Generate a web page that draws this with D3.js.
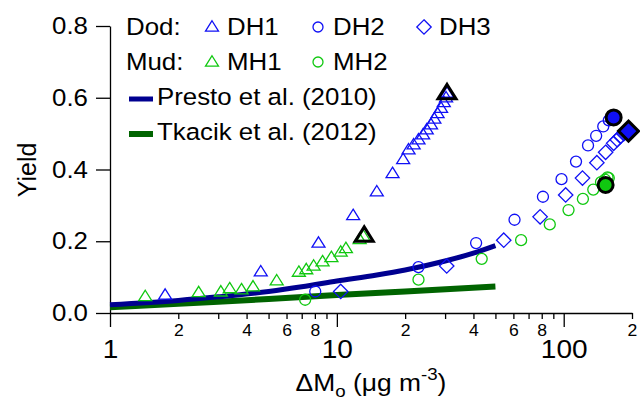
<!DOCTYPE html>
<html>
<head>
<meta charset="utf-8">
<script src="https://cdn.jsdelivr.net/npm/d3@7"></script>
<style>
  html, body { margin: 0; padding: 0; background: #fff; }
  svg { display: block; font-family: "Liberation Sans", Arial, Helvetica, sans-serif; }
</style>
</head>
<body>
<svg id="chart" width="640" height="401"></svg>
<script>
// ---------------- data ----------------
const dh1X = [1.75, 4.62, 8.3, 11.8, 15.0, 17.6, 19.6, 20.7, 21.8, 22.9, 24.0, 24.9, 26.0, 26.9, 27.8, 28.8, 29.6, 30.3, 30.6];
const dh1Y = [0.050, 0.115, 0.195, 0.272, 0.338, 0.389, 0.428, 0.455, 0.469, 0.483, 0.497, 0.511, 0.525, 0.541, 0.556, 0.571, 0.587, 0.600, 0.613];
const dh2X = [8.03, 22.9, 41.1, 60.7, 81.0, 97.8, 113.3, 128, 139, 149.4, 158, 163, 166];
const dh2Y = [0.060, 0.128, 0.195, 0.260, 0.324, 0.373, 0.422, 0.467, 0.494, 0.520, 0.537, 0.542, 0.545];
const dh3X = [10.4, 30.5, 54.4, 78.7, 102, 121, 140, 153, 166, 172, 178, 184, 189, 193];
const dh3Y = [0.060, 0.131, 0.203, 0.268, 0.329, 0.376, 0.419, 0.448, 0.473, 0.483, 0.492, 0.500, 0.505, 0.507];
const mh1X = [1.43, 2.46, 3.08, 3.37, 3.80, 4.27, 5.43, 6.80, 7.33, 7.90, 8.65, 9.46, 10.4, 10.96, 12.6, 13.1];
const mh1Y = [0.046, 0.057, 0.059, 0.068, 0.065, 0.073, 0.090, 0.114, 0.121, 0.131, 0.143, 0.155, 0.170, 0.180, 0.205, 0.214];
const mh2X = [7.25, 22.9, 43.5, 64.9, 86.8, 105, 121.5, 135, 146, 152, 156, 158, 153];
const mh2Y = [0.037, 0.093, 0.151, 0.203, 0.247, 0.287, 0.318, 0.344, 0.365, 0.372, 0.378, 0.376, 0.357];

// highlighted end points (x, y)
const endDH1 = [30.6, 0.613];
const endMH1 = [13.2, 0.216];
const endDH2 = [166, 0.545];
const endDH3 = [193, 0.507];
const endMH2 = [153, 0.357];

const prestoX = [1, 2, 3, 5, 7, 10, 15, 20, 30, 40, 50];
const prestoY = [0.023, 0.035, 0.045, 0.060, 0.073, 0.089, 0.106, 0.120, 0.145, 0.167, 0.188];
const tkacikX = [1, 2, 5, 10, 20, 50];
const tkacikY = [0.016, 0.026, 0.039, 0.050, 0.060, 0.074];

const yTicks = [0, 0.2, 0.4, 0.6, 0.8];
const xMajor = [1, 10, 100];
const xLabelled = [2, 4, 6, 8, 20, 40, 60, 80, 200];
const xTicks = [1,2,3,4,5,6,7,8,9,10,20,30,40,50,60,70,80,90,100,200];

// ---------------- style ----------------
const BLUE = "#1010f5", GREEN = "#10c810", NAVY = "#000090", DKGREEN = "#006400";
const SX = 1.1; // horizontal text stretch seen in the reference

const svg = d3.select("#chart");
const x = d3.scaleLog().domain([1, 200]).range([110, 632]);
const y = d3.scaleLinear().domain([0, 0.8]).range([313, 26]);

function stretch(sel) {
  sel.each(function() {
    const t = d3.select(this);
    const tx = +t.attr("x") || 0, ty = +t.attr("y") || 0;
    t.attr("transform", `translate(${tx},${ty}) scale(${SX},1) translate(${-tx},${-ty})`);
  });
}

// ---------------- axes ----------------
const yAxis = d3.axisLeft(y).tickValues(yTicks).tickSize(14).tickSizeOuter(0).tickPadding(8)
  .tickFormat(d3.format(".1f"));
const gy = svg.append("g").attr("transform", "translate(110,0)").call(yAxis);
gy.selectAll("text").attr("font-size", 23.5).attr("fill", "#000").attr("font-family", null);
gy.selectAll("line, path").attr("stroke", "#000").attr("stroke-width", 1.3);
stretch(gy.selectAll("text"));

const xAxis = d3.axisBottom(x).tickValues(xTicks).tickSize(6).tickSizeOuter(0)
  .tickFormat(d => {
    if (xMajor.includes(d)) return String(d);
    if (xLabelled.includes(d)) return String(d).charAt(0);
    return "";
  });
const gx = svg.append("g").attr("transform", "translate(0,313)").call(xAxis);
gx.selectAll("line, path").attr("stroke", "#000").attr("stroke-width", 1.3);
gx.selectAll(".tick").each(function(d) {
  const t = d3.select(this);
  if (xMajor.includes(d)) {
    t.select("line").attr("y2", 14);
    t.select("text").attr("y", 27).attr("font-size", 25.5);
  } else {
    t.select("text").attr("y", 12).attr("font-size", 16);
  }
  t.select("text").attr("fill", "#000").attr("font-family", null);
});
stretch(gx.selectAll("text"));

// axis titles
const title = svg.append("text").attr("x", 371).attr("y", 391).attr("text-anchor", "middle")
  .attr("font-size", 24).attr("fill", "#000");
title.append("tspan").text("ΔM");
title.append("tspan").attr("font-size", 17).attr("dy", 6).text("o");
title.append("tspan").attr("dy", -6).text(" (μg m");
title.append("tspan").attr("font-size", 17).attr("dy", -11).text("-3");
title.append("tspan").attr("dy", 11).text(")");
stretch(title);

svg.append("text").attr("transform", "translate(36,170) rotate(-90)").attr("text-anchor", "middle")
  .attr("font-size", 25).attr("fill", "#000").text("Yield");

// ---------------- lines ----------------
const line = d3.line().x(d => x(d[0])).y(d => y(d[1])).curve(d3.curveMonotoneX);
svg.append("path").datum(tkacikX.map((v, i) => [v, tkacikY[i]]))
  .attr("d", line).attr("fill", "none").attr("stroke", DKGREEN).attr("stroke-width", 6);
svg.append("path").datum(prestoX.map((v, i) => [v, prestoY[i]]))
  .attr("d", line).attr("fill", "none").attr("stroke", NAVY).attr("stroke-width", 5);

// ---------------- markers ----------------
function triPath(s) { // s = half width
  const h = s * 1.6;
  return `M0,${-h * 0.6}L${s},${h * 0.4}L${-s},${h * 0.4}Z`;
}
function diaPath(s) { return `M0,${-s}L${s},0L0,${s}L${-s},0Z`; }

function drawSeries(xs, ys, shape, color) {
  const pts = xs.map((v, i) => [v, ys[i]]);
  const g = svg.append("g");
  pts.forEach(p => {
    const cx = x(p[0]), cy = y(p[1]);
    if (shape === "circle") {
      g.append("circle").attr("cx", cx).attr("cy", cy).attr("r", 5.5)
        .attr("fill", "none").attr("stroke", color).attr("stroke-width", 1.3);
    } else {
      g.append("path").attr("transform", `translate(${cx},${cy})`)
        .attr("d", shape === "tri" ? triPath(6.5) : diaPath(7.2))
        .attr("fill", "none").attr("stroke", color).attr("stroke-width", 1.3);
    }
  });
}
drawSeries(mh1X, mh1Y, "tri", GREEN);
drawSeries(dh1X, dh1Y, "tri", BLUE);
drawSeries(mh2X, mh2Y, "circle", GREEN);
drawSeries(dh2X, dh2Y, "circle", BLUE);
drawSeries(dh3X, dh3Y, "dia", BLUE);

// highlighted end points
function endMarker(p, shape, fill) {
  const cx = x(p[0]), cy = y(p[1]);
  if (shape === "circle") {
    svg.append("circle").attr("cx", cx).attr("cy", cy).attr("r", 7.5)
      .attr("fill", fill).attr("stroke", "#000").attr("stroke-width", 3);
  } else {
    svg.append("path").attr("transform", `translate(${cx},${cy})`)
      .attr("d", shape === "tri" ? triPath(9) : diaPath(10))
      .attr("fill", fill).attr("stroke", "#000").attr("stroke-width", 3)
      .attr("stroke-linejoin", "miter");
  }
}
endMarker(endDH1, "tri", "none");
endMarker(endMH1, "tri", "none");
endMarker(endDH2, "circle", BLUE);
endMarker(endDH3, "dia", BLUE);
endMarker(endMH2, "circle", GREEN);

// ---------------- legend ----------------
const lg = svg.append("g").attr("font-size", 23.5).attr("fill", "#000");
lg.append("text").attr("x", 126).attr("y", 35).text("Dod:");
lg.append("text").attr("x", 126).attr("y", 70).text("Mud:");
const legItems = [
  { shape: "tri", color: BLUE, mx: 212, my: 27, tx: 227, ty: 35, label: "DH1" },
  { shape: "circle", color: BLUE, mx: 318, my: 27, tx: 333, ty: 35, label: "DH2" },
  { shape: "dia", color: BLUE, mx: 424, my: 27, tx: 439, ty: 35, label: "DH3" },
  { shape: "tri", color: GREEN, mx: 212, my: 62, tx: 227, ty: 70, label: "MH1" },
  { shape: "circle", color: GREEN, mx: 318, my: 62, tx: 333, ty: 70, label: "MH2" }
];
legItems.forEach(it => {
  if (it.shape === "circle") {
    lg.append("circle").attr("cx", it.mx).attr("cy", it.my).attr("r", 5)
      .attr("fill", "none").attr("stroke", it.color).attr("stroke-width", 1.3);
  } else {
    lg.append("path").attr("transform", `translate(${it.mx},${it.my})`)
      .attr("d", it.shape === "tri" ? triPath(6.5) : diaPath(7.2))
      .attr("fill", "none").attr("stroke", it.color).attr("stroke-width", 1.3);
  }
  lg.append("text").attr("x", it.tx).attr("y", it.ty).text(it.label);
});
const legLines = [
  { color: NAVY, y: 99, ty: 105, label: "Presto et al. (2010)", w: 5 },
  { color: DKGREEN, y: 134, ty: 140, label: "Tkacik et al. (2012)", w: 6 }
];
legLines.forEach(l => {
  lg.append("line").attr("x1", 129).attr("x2", 153).attr("y1", l.y).attr("y2", l.y)
    .attr("stroke", l.color).attr("stroke-width", l.w);
  lg.append("text").attr("x", 157).attr("y", l.ty).text(l.label);
});
stretch(lg.selectAll("text"));
</script>
</body>
</html>
